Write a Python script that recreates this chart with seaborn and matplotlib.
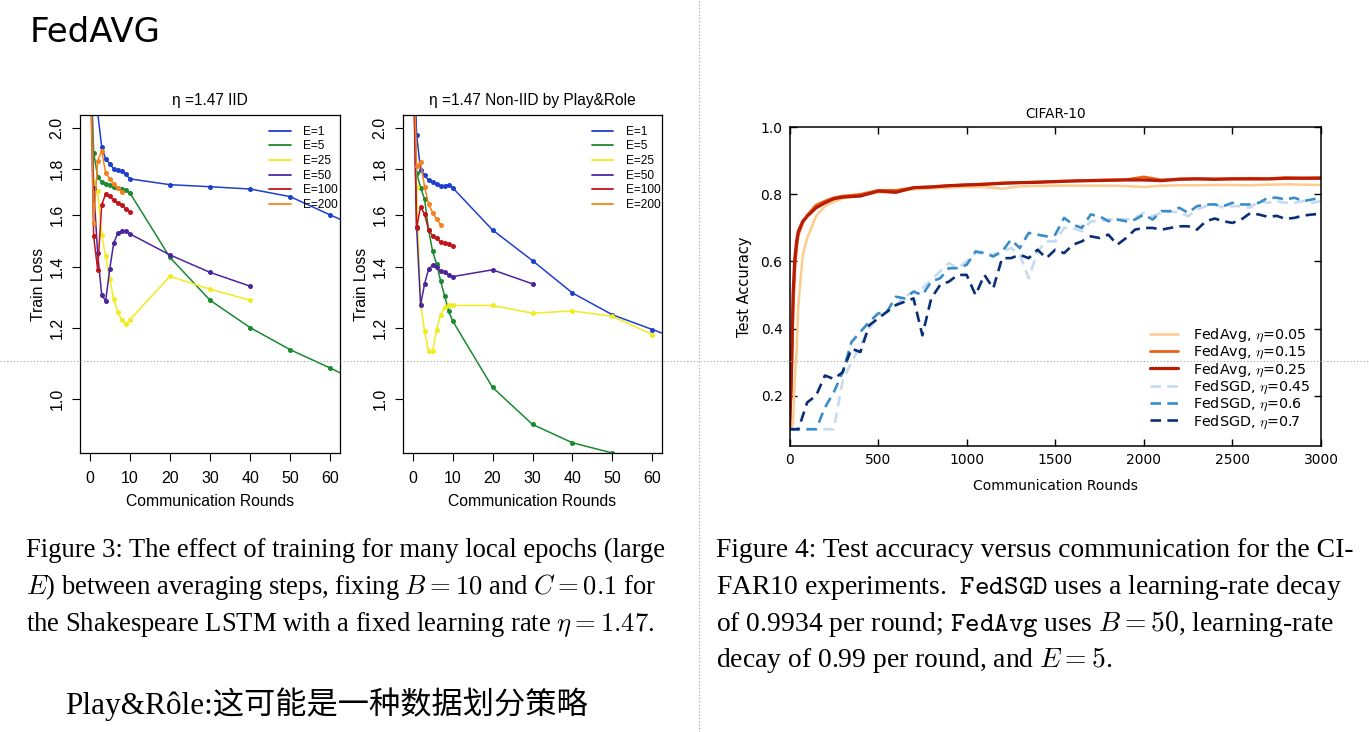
import matplotlib
matplotlib.use("Agg")
import matplotlib.pyplot as plt
from matplotlib.lines import Line2D
from matplotlib.ticker import FixedLocator, FixedFormatter, NullLocator
import pandas as pd
import seaborn as sns

# ---- Figure 3: Shakespeare LSTM train loss (IID) ----
iid_x_long = [0, 1, 2, 3, 4, 5, 6, 7, 8, 9, 10, 20, 30, 40, 50, 60, 70]
iid_x_mid = [0, 1, 2, 3, 4, 5, 6, 7, 8, 9, 10, 20, 30, 40]
iid_x_short = [0, 1, 2, 3, 4, 5, 6, 7, 8, 9, 10]
iid_x_e200 = [0, 1, 2, 3, 4, 5, 6, 7, 8]
iid_e1 = [2.8, 2.4, 2.08, 1.905, 1.845, 1.825, 1.80, 1.796, 1.789, 1.777, 1.755, 1.729, 1.720, 1.710, 1.677, 1.60, 1.53]
iid_e5 = [2.6, 1.876, 1.765, 1.739, 1.731, 1.726, 1.720, 1.715, 1.71, 1.705, 1.694, 1.436, 1.287, 1.2, 1.134, 1.082, 1.03]
iid_e25 = [2.6, 1.74, 1.70, 1.52, 1.44, 1.36, 1.29, 1.25, 1.224, 1.21, 1.224, 1.368, 1.324, 1.287]
iid_e50 = [2.6, 1.714, 1.451, 1.305, 1.285, 1.393, 1.489, 1.527, 1.536, 1.535, 1.525, 1.445, 1.382, 1.334]
iid_e100 = [2.6, 1.515, 1.392, 1.641, 1.69, 1.678, 1.661, 1.649, 1.64, 1.625, 1.614]
iid_e200 = [2.6, 1.567, 1.835, 1.885, 1.781, 1.755, 1.734, 1.715, 1.697]

# ---- Figure 3: Shakespeare LSTM train loss (Non-IID by Play&Role) ----
niid_x_e1 = [0, 1, 2, 3, 4, 5, 6, 7, 8, 9, 10, 20, 30, 40, 50, 60, 70]
niid_x_long = [0, 1, 2, 3, 4, 5, 6, 7, 8, 9, 10, 20, 30, 40, 50, 60]
niid_x_mid = [0, 1, 2, 3, 4, 5, 6, 7, 8, 9, 10, 20, 30]
niid_x_short = [0, 1, 2, 3, 4, 5, 6, 7, 8, 9, 10]
niid_x_e200 = [0, 1, 2, 3, 4, 5, 6, 7]
niid_e1 = [2.8, 1.965, 1.795, 1.772, 1.748, 1.739, 1.731, 1.724, 1.724, 1.729, 1.716, 1.540, 1.424, 1.311, 1.240, 1.194, 1.15]
niid_e5 = [2.6, 1.783, 1.716, 1.666, 1.54, 1.459, 1.412, 1.352, 1.302, 1.252, 1.221, 1.030, 0.937, 0.894, 0.871, 0.85]
niid_e25 = [2.6, 1.72, 1.275, 1.19, 1.129, 1.129, 1.193, 1.240, 1.265, 1.270, 1.270, 1.270, 1.245, 1.252, 1.235, 1.179]
niid_e50 = [2.6, 1.553, 1.272, 1.342, 1.393, 1.407, 1.40, 1.385, 1.384, 1.373, 1.367, 1.391, 1.342]
niid_e100 = [2.6, 1.548, 1.635, 1.603, 1.541, 1.517, 1.508, 1.493, 1.490, 1.486, 1.477]
niid_e200 = [2.6, 1.814, 1.83, 1.72, 1.645, 1.61, 1.583, 1.561]

epoch_labels = ["E=1", "E=5", "E=25", "E=50", "E=100", "E=200"]
epoch_colors = ["#1f3fcf", "#1a8a2e", "#f0ec1e", "#4b259e", "#c0141a", "#f5821f"]
loss_ticks = [1.0, 1.2, 1.4, 1.6, 1.8, 2.0]
loss_round_ticks = [0, 10, 20, 30, 40, 50, 60]

# ---- Figure 4: CIFAR-10 test accuracy ----
avg_rounds = [0, 10, 20, 30, 40, 50, 75, 100, 150, 200, 250, 300, 400, 500, 600, 700, 800,
              900, 1000, 1100, 1200, 1300, 1400, 1500, 1600, 1700, 1800, 1900, 2000, 2100,
              2200, 2300, 2400, 2500, 2600, 2700, 2800, 2900, 3000]
avg_005 = [0.10, 0.10, 0.12, 0.25, 0.33, 0.47, 0.62, 0.67, 0.735, 0.765, 0.778, 0.788, 0.798,
           0.805, 0.81, 0.815, 0.818, 0.82, 0.822, 0.822, 0.817, 0.824, 0.825, 0.826, 0.826,
           0.826, 0.826, 0.825, 0.822, 0.826, 0.827, 0.827, 0.828, 0.828, 0.827, 0.829, 0.830,
           0.829, 0.828]
avg_015 = [0.10, 0.22, 0.45, 0.58, 0.64, 0.68, 0.715, 0.738, 0.768, 0.78, 0.79, 0.795, 0.80,
           0.812, 0.812, 0.82, 0.823, 0.826, 0.829, 0.831, 0.834, 0.835, 0.837, 0.839, 0.84,
           0.842, 0.843, 0.844, 0.852, 0.843, 0.846, 0.847, 0.846, 0.847, 0.848, 0.847, 0.85,
           0.849, 0.85]
avg_025 = [0.10, 0.25, 0.50, 0.61, 0.66, 0.69, 0.72, 0.735, 0.76, 0.775, 0.787, 0.792, 0.795,
           0.81, 0.806, 0.82, 0.822, 0.826, 0.828, 0.83, 0.833, 0.835, 0.836, 0.838, 0.84,
           0.841, 0.842, 0.843, 0.843, 0.841, 0.845, 0.846, 0.845, 0.846, 0.846, 0.846, 0.848,
           0.848, 0.848]

sgd_rounds = list(range(0, 3001, 50))
sgd_045 = [0.10, 0.10, 0.10, 0.10, 0.10, 0.10, 0.245, 0.30, 0.35, 0.40, 0.435, 0.45, 0.47,
           0.495, 0.51, 0.52, 0.545, 0.57, 0.595, 0.58, 0.60, 0.625, 0.625, 0.62, 0.63, 0.64,
           0.62, 0.55, 0.63, 0.66, 0.66, 0.70, 0.70, 0.69, 0.72, 0.72, 0.725, 0.725, 0.725,
           0.73, 0.745, 0.735, 0.745, 0.75, 0.745, 0.735, 0.755, 0.765, 0.77, 0.76, 0.765,
           0.765, 0.76, 0.78, 0.775, 0.78, 0.775, 0.775, 0.78, 0.775, 0.78]
sgd_06 = [0.10, 0.10, 0.10, 0.10, 0.165, 0.21, 0.27, 0.36, 0.39, 0.42, 0.445, 0.45, 0.495,
          0.49, 0.51, 0.50, 0.54, 0.55, 0.58, 0.58, 0.59, 0.63, 0.625, 0.615, 0.63, 0.665,
          0.64, 0.685, 0.68, 0.675, 0.68, 0.73, 0.71, 0.70, 0.74, 0.735, 0.72, 0.725, 0.72,
          0.725, 0.74, 0.725, 0.75, 0.75, 0.76, 0.745, 0.765, 0.77, 0.77, 0.765, 0.775, 0.77,
          0.77, 0.775, 0.79, 0.79, 0.785, 0.79, 0.78, 0.785, 0.79]
sgd_07 = [0.10, 0.10, 0.18, 0.20, 0.26, 0.25, 0.27, 0.34, 0.33, 0.41, 0.43, 0.45, 0.47, 0.48,
          0.49, 0.38, 0.49, 0.53, 0.54, 0.56, 0.56, 0.50, 0.56, 0.52, 0.61, 0.61, 0.62, 0.61,
          0.635, 0.61, 0.635, 0.625, 0.65, 0.66, 0.675, 0.67, 0.68, 0.65, 0.67, 0.695, 0.70,
          0.70, 0.695, 0.70, 0.705, 0.705, 0.695, 0.72, 0.728, 0.72, 0.715, 0.725, 0.744,
          0.74, 0.733, 0.736, 0.727, 0.73, 0.737, 0.74, 0.742]

cifar_labels = ["FedAvg, $\\eta$=0.05", "FedAvg, $\\eta$=0.15", "FedAvg, $\\eta$=0.25",
                "FedSGD, $\\eta$=0.45", "FedSGD, $\\eta$=0.6", "FedSGD, $\\eta$=0.7"]
cifar_colors = ["#fccb8e", "#ec6016", "#b91c05", "#c6dbef", "#3a8dc9", "#0a2f76"]
acc_ticks = [0.2, 0.4, 0.6, 0.8, 1.0]
acc_round_ticks = [0, 500, 1000, 1500, 2000, 2500, 3000]

fig3_caption = [
    "Figure 3: The effect of training for many local epochs (large",
    "$E$) between averaging steps, fixing $B = 10$ and $C = 0.1$ for",
    "the Shakespeare LSTM with a fixed learning rate $\\eta = 1.47$.",
]
fig4_caption = [
    "Figure 4: Test accuracy versus communication for the CI-",
    "FAR10 experiments.  $\\mathtt{FedSGD}$ uses a learning-rate decay",
    "of 0.9934 per round; $\\mathtt{FedAvg}$ uses $B = 50$, learning-rate",
    "decay of 0.99 per round, and $E = 5$.",
]
note_text = "Play&Rôle:这可能是一种数据划分策略"

sns.set_style("ticks")
plt.rcParams["font.family"] = ["DejaVu Sans"]
plt.rcParams["mathtext.fontset"] = "cm"
for k in ["axes.edgecolor", "xtick.color", "ytick.color", "text.color", "axes.labelcolor"]:
    plt.rcParams[k] = "black"

W, H = 1369, 732
fig = plt.figure(figsize=(W / 100, H / 100), dpi=100)
fig.patch.set_facecolor("white")


def box(l, t, r, b):
    return [l / W, 1 - b / H, (r - l) / W, (b - t) / H]


RFONT = ["Liberation Sans", "DejaVu Sans"]


def loss_panel(ax, xs, ys, title):
    for x, y, lab, col in zip(xs, ys, epoch_labels, epoch_colors):
        df = pd.DataFrame({"round": x, "loss": y})
        sns.lineplot(data=df, x="round", y="loss", ax=ax, color=col, lw=1.1,
                     marker="o", markersize=3.6, mew=0, mec=col, errorbar=None)
    ax.set_yscale("log")
    ax.set_xlim(-2.4, 62.4)
    ax.set_ylim(0.871, 2.066)
    ax.yaxis.set_major_locator(FixedLocator(loss_ticks))
    ax.yaxis.set_major_formatter(FixedFormatter(["%.1f" % t for t in loss_ticks]))
    ax.yaxis.set_minor_locator(NullLocator())
    ax.xaxis.set_major_locator(FixedLocator(loss_round_ticks))
    ax.xaxis.set_minor_locator(NullLocator())
    ax.tick_params(direction="out", length=6, width=0.8, labelsize=11.5, pad=5)
    ax.tick_params(axis="x", pad=7)
    for lbl in ax.get_xticklabels() + ax.get_yticklabels():
        lbl.set_family(RFONT)
    for lbl in ax.get_yticklabels():
        lbl.set_rotation(90)
        lbl.set_va("center")
    for s in ax.spines.values():
        s.set_visible(True)
        s.set_linewidth(0.9)
    ax.set_title(title, fontsize=11.2, family=RFONT, pad=7)
    ax.set_xlabel("Communication Rounds", fontsize=11.3, family=RFONT)
    ax.set_ylabel("Train Loss", fontsize=11.3, family=RFONT)
    ax.xaxis.set_label_coords(0.5, -0.144)
    ax.xaxis.label.set_va("center")
    ax.yaxis.set_label_coords(-0.16, 0.5)
    ax.yaxis.label.set_va("center")
    handles = [Line2D([], [], color=c, lw=1.3) for c in epoch_colors]
    ax.legend(handles, epoch_labels, loc="upper left", bbox_to_anchor=(0.728, 0.968),
              frameon=False, prop={"family": RFONT, "size": 8.6}, handlelength=1.8,
              handletextpad=1.05, labelspacing=0.22, borderpad=0, borderaxespad=0)


ax1 = fig.add_axes(box(80, 115, 340, 453))
loss_panel(ax1, [iid_x_long, iid_x_long, iid_x_mid, iid_x_mid, iid_x_short, iid_x_e200],
           [iid_e1, iid_e5, iid_e25, iid_e50, iid_e100, iid_e200], "η =1.47 IID")

ax2 = fig.add_axes(box(403, 115, 662, 453))
loss_panel(ax2, [niid_x_e1, niid_x_long, niid_x_long, niid_x_mid, niid_x_short, niid_x_e200],
           [niid_e1, niid_e5, niid_e25, niid_e50, niid_e100, niid_e200],
           "η =1.47 Non-IID by Play&Role")

# CIFAR-10 panel
ax3 = fig.add_axes(box(789.5, 127.3, 1321, 446))
avg_series = [avg_005, avg_015, avg_025]
avg_widths = [1.8, 2.0, 2.3]
for y, lab, col, lw in zip(avg_series, cifar_labels[:3], cifar_colors[:3], avg_widths):
    df = pd.DataFrame({"round": avg_rounds, "acc": y})
    sns.lineplot(data=df, x="round", y="acc", ax=ax3, color=col, lw=lw, label=lab, errorbar=None)
for y, lab, col in zip([sgd_045, sgd_06, sgd_07], cifar_labels[3:], cifar_colors[3:]):
    df = pd.DataFrame({"round": sgd_rounds, "acc": y})
    sns.lineplot(data=df, x="round", y="acc", ax=ax3, color=col, lw=1.9, label=lab,
                 linestyle=(0, (4, 2.4)), errorbar=None)
ax3.set_xlim(0, 3000)
ax3.set_ylim(0.05, 1.0)
ax3.xaxis.set_major_locator(FixedLocator(acc_round_ticks))
ax3.yaxis.set_major_locator(FixedLocator(acc_ticks))
ax3.tick_params(direction="in", top=True, right=True, length=5, width=1,
                labelsize=10, pad=5)
for s in ax3.spines.values():
    s.set_visible(True)
    s.set_linewidth(1.1)
ax3.set_title("CIFAR-10", fontsize=9.8, pad=7)
ax3.set_xlabel("Communication Rounds", fontsize=10)
ax3.set_ylabel("Test Accuracy", fontsize=10.5)
ax3.xaxis.set_label_coords(0.5, -0.125)
ax3.xaxis.label.set_va("center")
ax3.yaxis.set_label_coords(-0.085, 0.5)
ax3.yaxis.label.set_va("center")
ax3.legend(loc="upper left", bbox_to_anchor=(0.679, 0.375), frameon=False, fontsize=10.3,
           handlelength=1.9, handletextpad=1.05, labelspacing=0.0, borderpad=0,
           borderaxespad=0)

# page furniture
fig.text(30 / W, 1 - 42 / H, "FedAVG", fontsize=24.5, ha="left", va="baseline")
fig.add_artist(Line2D([698.5 / W, 698.5 / W], [0, 1], transform=fig.transFigure,
                      color="#a0a0a0", lw=0.8, linestyle=(0, (1, 2))))
fig.add_artist(Line2D([0, 1], [1 - 361 / H, 1 - 361 / H], transform=fig.transFigure,
                      color="#a0a0a0", lw=0.8, linestyle=(0, (1, 2)), zorder=10))

SERIF = ["Liberation Serif", "DejaVu Serif"]
for i, line in enumerate(fig3_caption):
    fig.text(26 / W, 1 - (557 + 36.8 * i) / H, line, ha="left", va="baseline",
             fontsize=19.2, family=SERIF)
for i, line in enumerate(fig4_caption):
    fig.text(716 / W, 1 - (557 + 36.8 * i) / H, line, ha="left", va="baseline",
             fontsize=19.9, family=SERIF)
fig.text(65 / W, 1 - 714 / H, note_text, ha="left", va="baseline", fontsize=22.5,
         family=["Liberation Serif", "Noto Sans CJK SC"])

fig.savefig("out.png", dpi=100, facecolor="white")
